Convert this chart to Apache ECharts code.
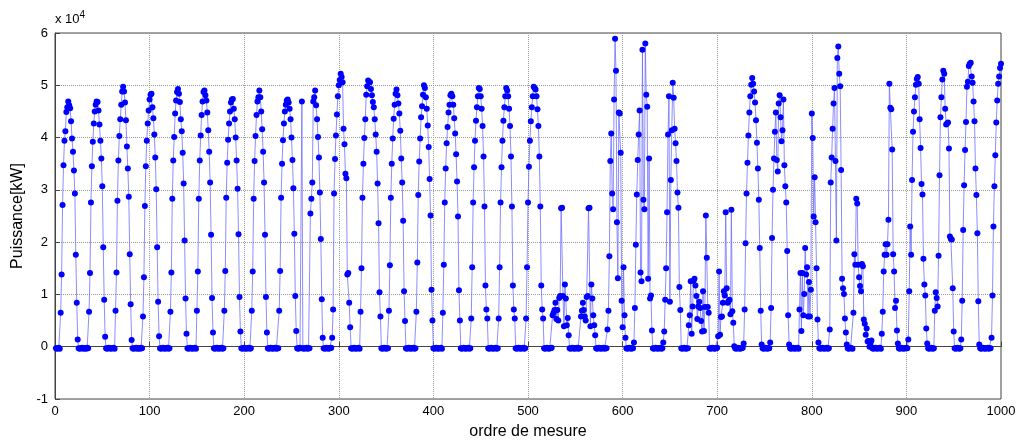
<!DOCTYPE html>
<html>
<head>
    <meta charset="utf-8">
    <title>Puissance - ordre de mesure</title>
    <script src="https://cdn.jsdelivr.net/npm/echarts@6.0.0/dist/echarts.min.js"></script>
    <style>
        body { margin: 0; background: #fff; }
    </style>
</head>
<body>
    <div id="chart" style="width: 1022px; height: 445px;"></div>

    <script>
        const bloc1 = [
            -0.03,-0.04,-0.03,-0.02,-0.04,
            0.65,1.38,2.71,3.47,3.94,4.12,4.49,4.58,4.69,4.62,4.56,4.31,3.98,3.73,3.37,2.93,1.76,0.84,0.14,
            -0.03,-0.04,-0.03,-0.03,-0.02,-0.04,-0.03,-0.03,-0.04,-0.02,-0.03,
            0.67,1.41,2.76,3.45,3.92,4.27,4.5,4.63,4.69,4.68,4.52,4.25,3.94,3.6,3.07,1.9,0.9,0.19,
            -0.03,-0.04,-0.03,-0.02,-0.03,-0.04,-0.03,-0.03,-0.02,-0.04,
            0.69,1.42,2.79,3.56,4.03,4.35,4.63,4.88,4.97,4.88,4.67,4.33,3.83,3.41,2.87,1.77,0.81,0.13,
            -0.03,-0.04,-0.03,-0.03,-0.02,-0.04,-0.03,-0.03,-0.04,-0.02,-0.03,
            0.58,1.33,2.69,3.45,3.94,4.27,4.52,4.73
        ];
        const bloc2 = [
            4.82,4.84,4.58,4.37,4.06,3.62,3.01,1.9,0.86,0.2,
            -0.03,-0.04,-0.03,-0.02,-0.03,-0.04,-0.03,-0.03,-0.02,-0.04,-0.03,
            0.67,1.42,2.83,3.56,4.01,4.46,4.71,4.87,4.93,4.84,4.68,4.35,4.12,3.71,3.12,2.03,0.92,0.25,
            -0.03,-0.04,-0.03,-0.02,-0.03,-0.04,-0.03,-0.03,-0.02,-0.04,
            0.69,1.44,2.83,3.56,4.04,4.43,4.69,4.87,4.9,4.81,4.71,4.48,4.14,3.73,3.14,2.14,0.93,0.27,
            -0.03,-0.04,-0.03,-0.02,-0.03,-0.04,-0.03,-0.03,-0.02,-0.04,-0.03,
            0.69,1.45,2.85,3.52,3.96,4.27,4.5,4.67,4.73,4.74,4.55,4.35,4.0,3.56,3.02,2.15,0.95,0.29,
            -0.03,-0.04,-0.03,-0.02
        ];
        const bloc3 = [
            -0.03,-0.04,-0.03,-0.03,-0.02,-0.04,-0.03,
            0.69,1.44,2.83,3.55,4.03,4.43,4.69,4.77,4.9,4.77,4.5,4.16,3.73,3.14,2.14,0.95,0.27,
            -0.03,-0.04,-0.03,-0.02,-0.03,-0.04,-0.03,-0.03,-0.02,-0.04,-0.03,-0.03,
            0.69,1.45,2.85,3.5,3.95,4.27,4.5,4.63,4.71,4.73,4.67,4.55,4.35,4.0,3.57,3.03,2.16,0.97,0.3,
            -0.03,-0.04,-0.03,-0.02,-0.03,
            4.69,
            -0.03,-0.04,-0.03,-0.03,-0.02,-0.04,-0.03,-0.03,
            2.55,2.83,3.14,4.69,4.77,4.9,4.62,4.35,4.01,3.62,2.95,2.06,0.91,0.17,
            -0.03,-0.04,-0.03,-0.02,-0.03,-0.04,-0.03,-0.03,-0.02,
            0.17,
            0.71,2.93,3.59,4.04,4.44,4.79,5.0
        ];
        const bloc4 = [
            5.1,5.22,5.16,5.06,4.17,3.87,3.31,3.22,1.38,1.41,0.84,0.37,
            -0.03,-0.04,-0.03,-0.02,-0.03,-0.04,-0.03,-0.03,-0.02,-0.04,
            0.67,1.5,2.85,3.5,3.99,4.35,4.82,4.98,5.09,5.07,5.06,4.93,4.81,4.68,4.58,4.35,4.06,3.73,3.12,2.36,1.04,0.58,
            -0.03,-0.04,-0.03,-0.02,-0.03,-0.04,-0.03,-0.03,
            0.69,1.56,2.85,3.5,3.98,4.36,4.63,4.84,4.92,4.81,4.65,4.46,4.13,3.6,3.14,2.41,1.06,0.49,
            -0.03,-0.04,-0.03,-0.02,-0.03,-0.04,-0.03,-0.03,-0.02,-0.04,-0.03,
            0.67,1.61,2.9,3.54,3.98,4.39,4.6,4.82,5.0,4.95,4.77,4.55,4.23,3.82,3.21,2.51,1.09,0.5,
            -0.03
        ];
        const bloc5 = [
            -0.04,-0.03,-0.02,-0.03,-0.04,-0.03,-0.03,-0.02,-0.04,
            0.65,1.57,2.76,3.41,3.89,4.2,4.48,4.63,4.81,4.84,4.79,4.63,4.37,4.08,3.68,3.16,2.49,1.08,0.5,
            -0.03,-0.04,-0.03,-0.02,-0.03,-0.04,-0.03,-0.03,-0.02,-0.04,-0.03,
            0.54,1.52,2.76,3.43,3.94,4.32,4.58,4.79,4.95,4.93,4.79,4.55,4.22,3.64,2.68,1.17,0.71,0.54,
            -0.03,-0.04,-0.03,-0.02,-0.03,-0.04,-0.03,-0.03,-0.02,-0.04,-0.03,
            0.54,1.52,2.76,3.43,3.94,4.32,4.58,4.79,4.95,4.9,4.79,4.55,4.22,3.64,2.68,1.17,0.71,0.54,
            -0.03,-0.04,-0.03,-0.02,-0.03,-0.04,-0.03,-0.03,-0.02,-0.04,-0.03,
            0.54,1.52,2.76
        ];
        const bloc6 = [
            3.44,3.94,4.31,4.58,4.79,4.97,4.95,4.92,4.79,4.54,4.22,3.64,2.68,1.17,0.71,0.54,
            -0.03,-0.04,-0.03,-0.02,-0.03,-0.04,-0.03,-0.03,-0.02,
            0.6,0.65,0.7,0.84,0.53,0.7,0.5,0.93,0.97,2.65,2.66,0.97,0.39,1.19,0.92,0.41,0.55,0.22,
            -0.03,-0.04,-0.03,-0.02,-0.03,-0.04,-0.03,-0.03,-0.02,-0.04,-0.03,-0.03,
            0.58,0.69,0.84,0.7,0.58,0.5,0.95,0.97,2.65,2.66,0.39,1.19,0.92,0.6,0.41,0.22,
            -0.03,-0.04,-0.03,-0.02,-0.03,-0.04,-0.03,-0.03,-0.02,-0.04,-0.03,-0.03,
            0.33,0.69,1.73,3.55,4.08,2.93,2.63,4.73,5.89,5.28,2.38,1.31,4.48,4.46,3.71,0.88,0.37
        ];
        const bloc7 = [
            1.52,0.6,0.17,
            -0.03,-0.04,-0.03,-0.02,-0.03,-0.04,-0.03,-0.03,
            0.08,0.74,1.95,2.91,3.57,4.06,4.52,1.42,1.25,5.68,2.81,2.63,5.8,4.82,4.59,1.3,3.6,0.92,0.98,0.31,
            -0.03,-0.04,-0.03,-0.02,-0.03,-0.04,-0.03,-0.03,-0.02,-0.04,-0.03,
            0.08,0.29,0.9,1.5,2.57,4.06,4.79,0.86,3.19,4.14,5.05,4.76,4.17,3.89,3.55,2.95,2.66,1.14,0.7,
            -0.03,-0.04,-0.03,-0.02,-0.03,-0.04,-0.03,-0.03,
            0.41,0.6,1.25,0.25,0.77,1.26,1.3,1.17,0.97,0.53,0.77,0.86,0.74,0.49,0.29,1.06,0.3,0.76,2.51,1.7,0.76,0.65,
            -0.03,-0.04,-0.03,-0.02,-0.03,-0.04,-0.03,-0.03,-0.02
        ];
        const bloc8 = [
            0.2,1.44,0.23,0.57,0.58,0.84,1.06,0.98,2.57,1.12,0.84,0.87,0.9,0.62,2.62,0.68,0.46,0.01,
            -0.03,-0.04,-0.03,-0.02,-0.03,-0.04,-0.03,-0.03,-0.02,
            0.06,0.71,1.98,2.93,3.52,4.04,4.48,4.79,5.01,5.14,5.03,4.88,4.67,4.33,3.9,3.41,2.81,1.89,0.69,0.04,
            -0.03,-0.04,-0.03,-0.02,-0.03,-0.04,-0.03,-0.03,
            0.08,0.74,2.08,3.0,3.6,4.11,4.48,3.57,3.35,4.65,4.81,4.39,3.93,4.14,4.73,3.47,3.07,2.76,1.83,0.6,0.04,
            -0.03,-0.04,-0.03,-0.02,-0.03,-0.04,-0.03,-0.03,-0.02,-0.04,
            0.71,1.41,0.3,1.41,0.6,1.01,1.89,1.38,1.52,0.58,1.24,0.58,1.09,4.46
        ];
        const bloc9 = [
            3.99,2.49,3.24,2.38,1.5,0.52,0.08,
            -0.03,-0.04,-0.03,-0.02,-0.03,-0.04,-0.03,-0.03,-0.02,-0.04,-0.03,
            0.33,3.14,3.62,4.17,4.65,4.95,3.55,2.03,5.52,5.74,5.22,4.98,3.38,1.3,1.12,1.01,0.54,0.27,0.04,
            -0.03,-0.04,-0.03,-0.02,-0.03,-0.04,
            0.65,1.77,1.57,2.83,2.74,1.57,1.33,1.16,1.06,1.58,1.54,0.52,0.44,0.23,0.35,0.1,0.11,0.0,0.06,0.12,
            -0.03,-0.04,-0.03,-0.02,-0.03,-0.04,-0.03,-0.03,-0.02,-0.04,
            0.25,0.67,1.44,1.76,1.96,1.76,1.96,2.43,5.03,4.57,4.54,3.77,1.77,1.44,0.74,0.88,0.31,0.06,
            -0.03,-0.04,-0.03,-0.02,-0.03,-0.04,-0.03,-0.03,-0.02
        ];
        const bloc10 = [
            -0.03,
            0.14,1.06,2.3,1.76,3.19,4.11,4.5,4.77,5.01,5.12,5.16,5.03,4.35,3.8,3.11,2.91,1.68,1.19,0.98,0.35,0.06,
            -0.03,-0.04,-0.03,-0.02,-0.03,-0.04,-0.03,
            0.69,1.04,0.93,0.77,1.74,3.28,4.39,4.77,5.11,5.28,5.22,4.55,4.25,4.27,4.29,3.79,2.11,2.06,2.05,1.12,0.29,
            -0.03,-0.04,-0.03,-0.02,-0.03,-0.04,-0.03,
            0.14,0.88,2.23,3.09,3.76,4.3,4.97,5.07,5.37,5.41,5.43,5.17,5.05,4.69,4.31,3.41,2.9,2.17,0.87,0.04,
            -0.03,-0.04,-0.03,-0.02,-0.03,-0.04,-0.03,-0.03,-0.02,-0.04,-0.03,-0.03,
            0.17,0.98,2.3,3.07,3.66,4.29,4.71,5.03,5.17,5.33,5.41
        ];

        const puissance = [].concat(bloc1, bloc2, bloc3, bloc4, bloc5, bloc6, bloc7, bloc8, bloc9, bloc10);
        // ordre de mesure : 1..N comme plot(y) sous MATLAB
        const mesures = puissance.map((v, i) => [i + 1, v]);

        const police = 'Liberation Sans, Arial, Helvetica, sans-serif';

        const chart = echarts.init(document.getElementById('chart'), null, { renderer: 'canvas' });

        const option = {
            animation: false,
            backgroundColor: '#fff',
            textStyle: { fontFamily: police },
            grid: {
                left: 55, right: 21, top: 33, bottom: 44,
                show: true, borderColor: '#444', borderWidth: 1
            },
            xAxis: {
                type: 'value',
                min: 0, max: 1000, interval: 100,
                name: 'ordre de mesure',
                nameLocation: 'middle',
                nameGap: 25,
                nameTextStyle: { fontSize: 16, color: '#000', fontFamily: police },
                axisLine: { show: true, lineStyle: { color: '#444' } },
                axisTick: { inside: true, length: 5, lineStyle: { color: '#444' } },
                axisLabel: { fontSize: 13, color: '#000', margin: 6, fontFamily: police,
                    formatter: (v) => String(v) },
                splitLine: { show: true, lineStyle: { color: '#9a9a9a', type: 'dotted', width: 1 } }
            },
            yAxis: {
                type: 'value',
                min: -1, max: 6, interval: 1,
                name: 'Puissance[kW]',
                nameLocation: 'middle',
                nameGap: 21,
                nameTextStyle: { fontSize: 16, color: '#000', fontFamily: police },
                axisLine: { show: true, lineStyle: { color: '#444' } },
                axisTick: { inside: true, length: 5, lineStyle: { color: '#444' } },
                axisLabel: { fontSize: 13, color: '#000', margin: 7, fontFamily: police },
                splitLine: { show: true, lineStyle: { color: '#9a9a9a', type: 'dotted', width: 1 } }
            },
            graphic: [{
                type: 'text',
                left: 55, top: 10,
                style: {
                    text: 'x 10{sup|4}',
                    fontSize: 13,
                    fontFamily: police,
                    fill: '#000',
                    rich: { sup: { fontSize: 10, verticalAlign: 'top', padding: [0, 0, 8, 0] } }
                }
            }],
            series: [{
                type: 'line',
                data: mesures,
                symbol: 'circle',
                symbolSize: 6,
                showAllSymbol: true,
                sampling: null,
                itemStyle: { color: '#0000ff' },
                lineStyle: { color: '#6f6fff', width: 0.8 },
                emphasis: { disabled: true }
            }]
        };

        chart.setOption(option);
    </script>
</body>
</html>
